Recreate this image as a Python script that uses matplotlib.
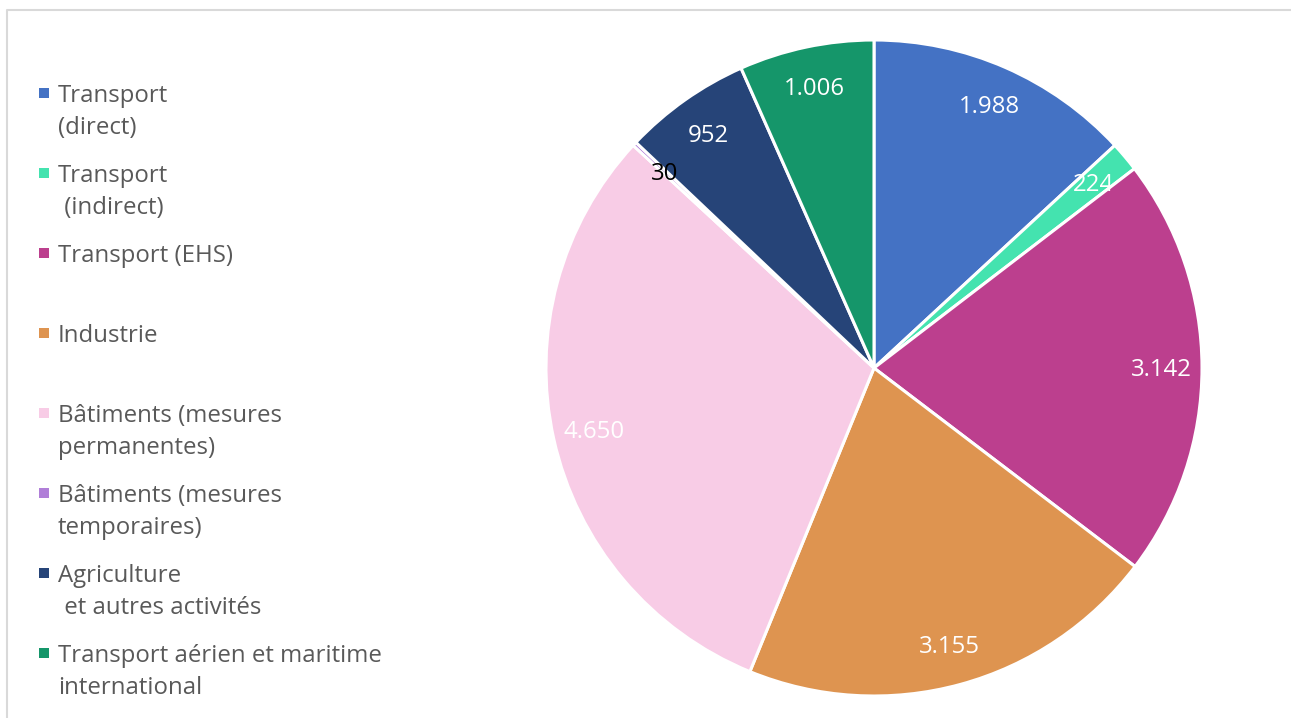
import matplotlib
matplotlib.use("Agg")
import matplotlib.pyplot as plt
import numpy as np
from matplotlib.lines import Line2D
from matplotlib.patches import Rectangle

plt.rcParams['font.family'] = ['Open Sans', 'DejaVu Sans']

categories = [
    "Transport\n(direct)",
    "Transport\n (indirect)",
    "Transport (EHS)",
    "Industrie",
    "Bâtiments (mesures\npermanentes)",
    "Bâtiments (mesures\ntemporaires)",
    "Agriculture\n et autres activités",
    "Transport aérien et maritime\ninternational",
]
values = [1988, 224, 3142, 3155, 4650, 30, 952, 1006]
colors = ["#4472C4", "#44E3AF", "#BC3F8E", "#DE9450", "#F8CCE6", "#B07ED8", "#264478", "#15966A"]
label_colors = ["white", "white", "white", "white", "white", "black", "white", "white"]

W, H = 1291, 718
fig = plt.figure(figsize=(W / 100, H / 100), dpi=100)

# frame lines
fig.add_artist(Line2D([7 / W, 7 / W, 1.0], [0.0, 1 - 10 / H, 1 - 10 / H],
                      transform=fig.transFigure, color="#D9D9D9", lw=1.5))

cx, cy, R = 874, 368, 328
ax = fig.add_axes([(cx - R) / W, (H - cy - R) / H, 2 * R / W, 2 * R / H])
wedges, _ = ax.pie(values, colors=colors, startangle=90, counterclock=False,
                   wedgeprops=dict(edgecolor="white", linewidth=2.2))
ax.set_xlim(-1, 1)
ax.set_ylim(-1, 1)
ax.set_aspect("equal")
ax.axis("off")

def fmt(v):
    return f"{v:,}".replace(",", ".")

for w, v, lc in zip(wedges, values, label_colors):
    th = np.deg2rad((w.theta1 + w.theta2) / 2)
    r = 0.875
    ax.annotate(fmt(v), (r * np.cos(th), r * np.sin(th)), xytext=(0, -8),
                textcoords="offset pixels", ha="center", va="baseline",
                color=lc, fontsize=17.3)

# legend
y0 = 93
step = 80
for i, (cat, col) in enumerate(zip(categories, colors)):
    y = y0 + i * step
    fig.add_artist(Rectangle((39 / W, 1 - (y + 5) / H), 10 / W, 10 / H,
                             transform=fig.transFigure, facecolor=col, edgecolor="none"))
    fig.text(58 / W, 1 - (y - 9) / H, cat, ha="left", va="top", fontsize=17.3,
             color="#595959", linespacing=1.46)

fig.savefig("out.png", dpi=100)
